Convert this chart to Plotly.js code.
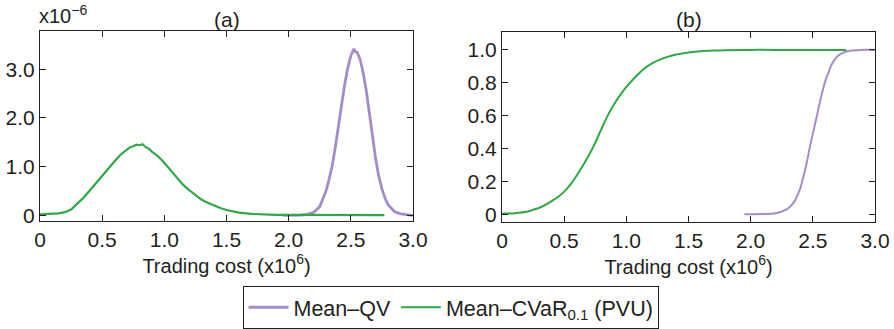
<!DOCTYPE html>
<html>
<head>
<meta charset="utf-8">
<script src="https://cdn.plot.ly/plotly-3.0.1.min.js"></script>
<style>html,body{margin:0;padding:0;background:#fff;}#chart{width:894px;height:329px;}</style>
</head>
<body>
<div id="chart"></div>
<script>
// Panel (a): densities (x in 1e6, y in 1e-6)
const qvDensX = [1.95, 2.0, 2.05, 2.1, 2.15, 2.2, 2.25, 2.28, 2.3, 2.325, 2.35, 2.375, 2.4, 2.425, 2.45, 2.475, 2.5, 2.515, 2.525, 2.535, 2.55, 2.575, 2.6, 2.625, 2.65, 2.675, 2.7, 2.725, 2.75, 2.775, 2.8, 2.85, 2.9, 2.95, 3.0];
const qvDensY = [0, 0, 0, 0.005, 0.02, 0.06, 0.18, 0.35, 0.50, 0.74, 1.02, 1.40, 1.84, 2.28, 2.68, 3.02, 3.28, 3.37, 3.42, 3.36, 3.35, 3.20, 2.92, 2.55, 2.12, 1.62, 1.15, 0.80, 0.55, 0.35, 0.22, 0.08, 0.03, 0.01, 0.0];
const cvDensX = [0, 0.05, 0.1, 0.15, 0.2, 0.25, 0.3, 0.35, 0.4, 0.45, 0.5, 0.55, 0.6, 0.65, 0.7, 0.725, 0.75, 0.775, 0.8, 0.825, 0.85, 0.875, 0.9, 0.95, 1.0, 1.05, 1.1, 1.15, 1.2, 1.25, 1.3, 1.35, 1.4, 1.45, 1.5, 1.55, 1.6, 1.7, 1.8, 1.9, 2.0, 2.2, 2.4, 2.6, 2.77];
const cvDensY = [0.02, 0.022, 0.028, 0.04, 0.065, 0.12, 0.24, 0.36, 0.51, 0.66, 0.82, 0.98, 1.11, 1.25, 1.35, 1.40, 1.42, 1.45, 1.44, 1.46, 1.40, 1.37, 1.31, 1.21, 1.08, 0.93, 0.78, 0.63, 0.52, 0.41, 0.32, 0.26, 0.20, 0.15, 0.11, 0.075, 0.055, 0.03, 0.015, 0.01, 0.01, 0.005, 0.005, 0.005, 0.005];
// Panel (b): cumulative distributions
const qvCdfX = [1.95, 2.0, 2.1, 2.2, 2.24, 2.3, 2.35, 2.37, 2.4, 2.425, 2.45, 2.475, 2.5, 2.53, 2.55, 2.585, 2.6, 2.64, 2.65, 2.7, 2.75, 2.8, 2.88, 3.0];
const qvCdfY = [0, 0, 0.001, 0.006, 0.014, 0.035, 0.075, 0.105, 0.16, 0.23, 0.31, 0.405, 0.49, 0.59, 0.66, 0.77, 0.81, 0.89, 0.91, 0.963, 0.985, 0.995, 1.0, 1.0];
const cvCdfX = [0, 0.1, 0.2, 0.25, 0.3, 0.35, 0.4, 0.45, 0.5, 0.55, 0.6, 0.65, 0.7, 0.75, 0.8, 0.85, 0.9, 0.95, 1.0, 1.05, 1.1, 1.15, 1.2, 1.3, 1.4, 1.5, 1.6, 1.7, 1.8, 2.0, 2.2, 2.5, 2.77];
const cvCdfY = [0.004, 0.007, 0.015, 0.027, 0.04, 0.058, 0.08, 0.105, 0.138, 0.18, 0.235, 0.295, 0.36, 0.435, 0.52, 0.60, 0.668, 0.725, 0.775, 0.817, 0.856, 0.89, 0.915, 0.95, 0.972, 0.984, 0.992, 0.996, 0.998, 1.0, 1.0, 1.0, 1.0];

const xTickVals = [0, 0.5, 1.0, 1.5, 2.0, 2.5, 3.0];
const xTickText = ["0", "0.5", "1.0", "1.5", "2.0", "2.5", "3.0"];
const yaTickVals = [0, 1, 2, 3];
const yaTickText = ["0", "1.0", "2.0", "3.0"];
const ybTickVals = [0, 0.2, 0.4, 0.6, 0.8, 1.0];
const ybTickText = ["0", "0.2", "0.4", "0.6", "0.8", "1.0"];
const seriesNames = ["Mean\u2013QV", "Mean\u2013CVaR<sub>0.1</sub> (PVU)"];

const PURPLE = "#a48cc8";
const GREEN = "#2fa846";
const INK = "#231f20";
const FONT = "Liberation Sans, Arial, sans-serif";
const TICK = 21;

const traces = [
  {x: qvDensX, y: qvDensY, xaxis: "x", yaxis: "y", mode: "lines", name: seriesNames[0], line: {color: PURPLE, width: 2.8}, legendgroup: "qv"},
  {x: cvDensX, y: cvDensY, xaxis: "x", yaxis: "y", mode: "lines", name: seriesNames[1], line: {color: GREEN, width: 2.2}, legendgroup: "cv"},
  {x: qvCdfX, y: qvCdfY, xaxis: "x2", yaxis: "y2", mode: "lines", name: seriesNames[0], line: {color: PURPLE, width: 2, shape: "spline", smoothing: 1}, showlegend: false},
  {x: cvCdfX, y: cvCdfY, xaxis: "x2", yaxis: "y2", mode: "lines", name: seriesNames[1], line: {color: GREEN, width: 2, shape: "spline", smoothing: 1}, showlegend: false}
];

function xAxis(domain, anchor) {
  return {
    domain: domain, anchor: anchor, range: [0, 3],
    tickvals: xTickVals, ticktext: xTickText,
    ticks: "inside", ticklen: 6, tickwidth: 1, tickcolor: INK,
    showline: true, linecolor: INK, linewidth: 1, mirror: "allticks",
    showgrid: false, zeroline: false,
    tickfont: {family: FONT, size: TICK, color: INK},
    title: {text: "Trading cost (x10<sup>6</sup>)", font: {family: FONT, size: 20, color: INK}, standoff: 2}
  };
}
function yAxis(domain, anchor, range, vals, text) {
  return {
    domain: domain, anchor: anchor, range: range,
    tickvals: vals, ticktext: text,
    ticks: "inside", ticklen: 6, tickwidth: 1, tickcolor: INK,
    showline: true, linecolor: INK, linewidth: 1, mirror: "allticks",
    showgrid: false, zeroline: false,
    tickfont: {family: FONT, size: TICK, color: INK}
  };
}

const layout = {
  width: 894, height: 329,
  margin: {l: 0, r: 0, t: 0, b: 0},
  paper_bgcolor: "#fff", plot_bgcolor: "#fff",
  font: {family: FONT, color: INK},
  xaxis: xAxis([40/894, 413/894], "y"),
  yaxis: yAxis([1 - 226/329, 1 - 32/329], "x", [-0.12, 3.78], yaTickVals, yaTickText),
  xaxis2: xAxis([502/894, 875/894], "y2"),
  yaxis2: yAxis([1 - 227/329, 1 - 33/329], "x2", [-0.048, 1.107], ybTickVals, ybTickText),
  showlegend: true,
  legend: {
    orientation: "h", x: 0.505, xanchor: "center", y: 1 - 292/329, yanchor: "top",
    bordercolor: INK, borderwidth: 1, bgcolor: "#fff", itemwidth: 40,
    font: {family: FONT, size: 21.5, color: INK}
  },
  annotations: [
    {text: "(a)", xref: "paper", yref: "paper", x: (40 + 413) / 2 / 894, y: 1 - 20/329, xanchor: "center", yanchor: "middle", showarrow: false, font: {family: FONT, size: 21, color: INK}},
    {text: "(b)", xref: "paper", yref: "paper", x: (502 + 875) / 2 / 894, y: 1 - 20/329, xanchor: "center", yanchor: "middle", showarrow: false, font: {family: FONT, size: 21, color: INK}},
    {text: "x10<sup>\u22126</sup>", xref: "paper", yref: "paper", x: 37/894, y: 1 - 30/329, xanchor: "left", yanchor: "bottom", showarrow: false, font: {family: FONT, size: 20, color: INK}}
  ]
};

Plotly.newPlot("chart", traces, layout, {displayModeBar: false, staticPlot: true});
</script>
</body>
</html>
